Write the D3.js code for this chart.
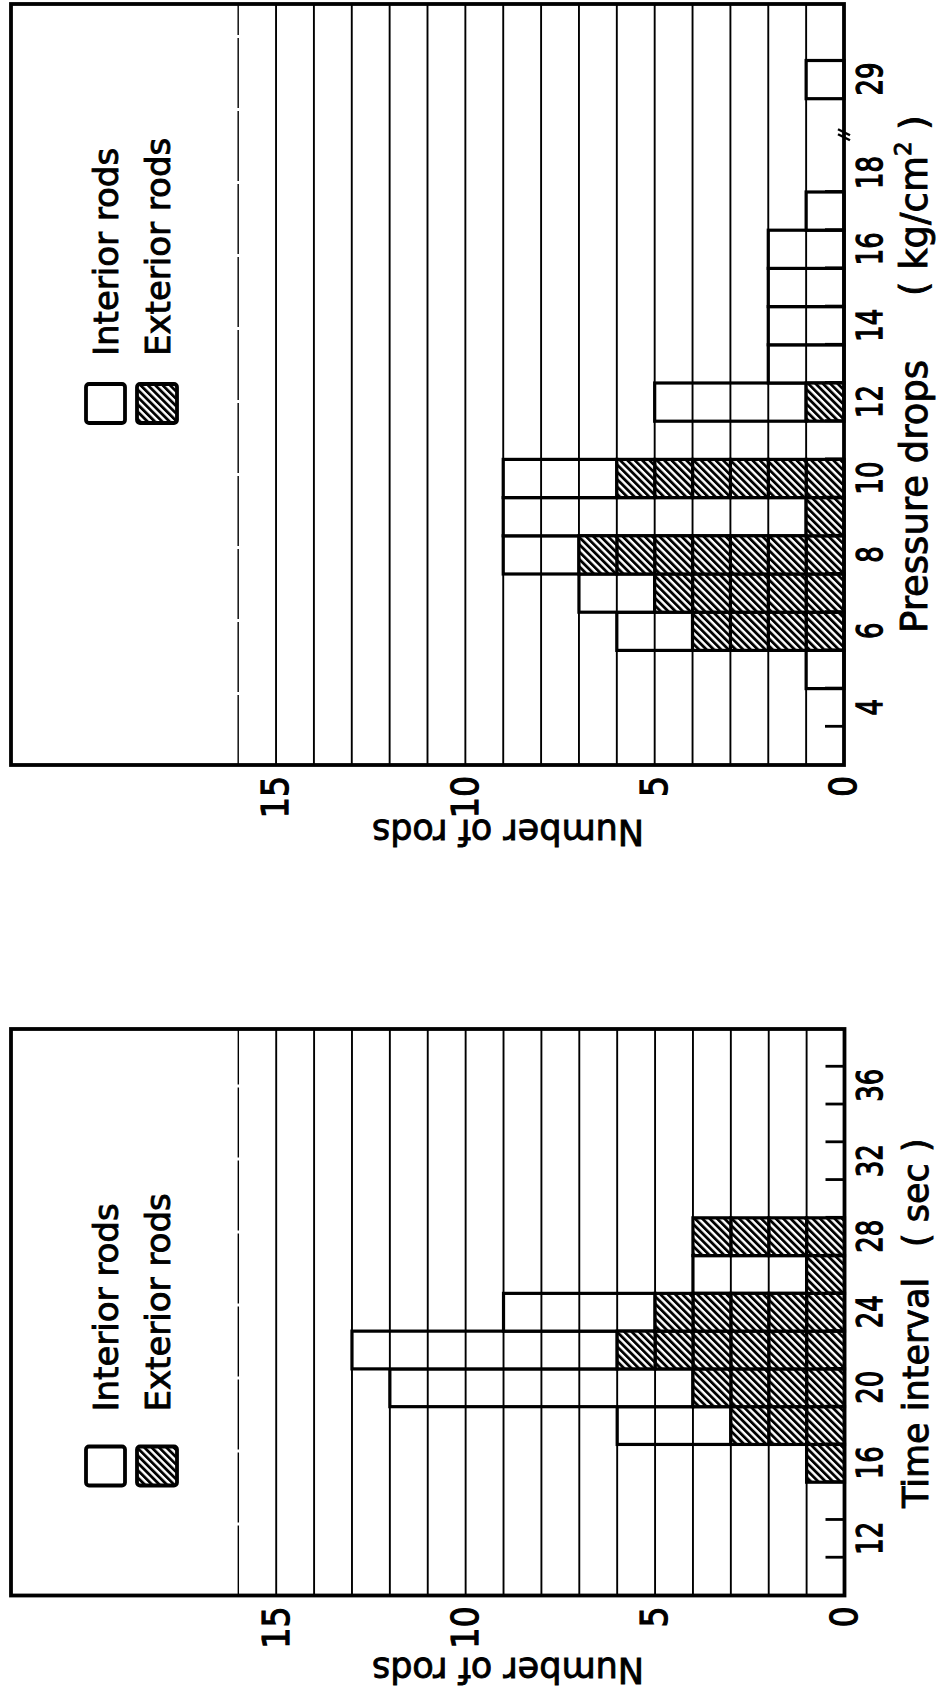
<!DOCTYPE html>
<html>
<head>
<meta charset="utf-8">
<script src="https://cdn.jsdelivr.net/npm/d3@7"></script>
<style>
  body { margin: 0; background: #fff; }
  text { font-family: "DejaVu Sans", sans-serif; fill: #000; stroke: #000; stroke-width: 0.9px; }
</style>
</head>
<body>
<div class="chart"></div>
<script>
// values (number of rods per bin)
var valueTicks = [0, 5, 10, 15];
var gridValues = d3.range(1, 17);

var pressureBins = [4, 5, 6, 7, 8, 9, 10, 11, 12, 13, 14, 15, 16, 17, 18, 29];
var pressureExterior = [0, 0, 4, 5, 7, 1, 6, 0, 1, 0, 0, 0, 0, 0, 0, 0];
var pressureInterior = [0, 1, 2, 2, 2, 8, 3, 0, 4, 2, 2, 2, 2, 1, 0, 1];
var pressureLabels = [4, 6, 8, 10, 12, 14, 16, 18, 29];

var timeBins = [10, 12, 14, 16, 18, 20, 22, 24, 26, 28, 30, 32, 34, 36, 38];
var timeExterior = [0, 0, 0, 1, 3, 4, 6, 5, 1, 4, 0, 0, 0, 0, 0];
var timeInterior = [0, 0, 0, 0, 3, 8, 7, 4, 3, 0, 0, 0, 0, 0, 0];
var timeLabels = [12, 16, 20, 24, 28, 32, 36];

var svg = d3.select(".chart")
  .append("svg")
  .attr("width", 938)
  .attr("height", 1692);

svg.append("rect")
  .attr("width", 938)
  .attr("height", 1692)
  .attr("fill", "#fff");

// hatch for exterior rods
var hatch = svg.append("defs").append("pattern")
  .attr("id", "hatch")
  .attr("patternUnits", "userSpaceOnUse")
  .attr("width", 5.2)
  .attr("height", 5.2)
  .attr("patternTransform", "rotate(45)");
hatch.append("rect").attr("width", 5.2).attr("height", 5.2).attr("fill", "#fff");
hatch.append("rect").attr("width", 2.8).attr("height", 5.2).attr("fill", "#000");

// the whole figure is printed turned a quarter turn, so each chart is
// drawn upright and then rotated
function drawChart(cfg) {
  var W = cfg.width;
  var H = cfg.height;

  var g = svg.append("g")
    .attr("transform", `translate(${cfg.left}, ${cfg.bottom}) rotate(-90)`);

  var x = d3.scaleLinear().domain(cfg.xDomain).range(cfg.xRange);
  var y = d3.scaleLinear().domain([0, 22]).range([H, 0]);

  var data = cfg.bins.map(function (b, i) {
    return { bin: b, ext: cfg.ext[i], int: cfg.int[i] };
  });
  var half = cfg.binWidth / 2;

  // interior rods sit on top of the exterior ones
  g.selectAll(".interior")
    .data(data.filter(d => d.int > 0))
    .enter()
    .append("rect")
    .attr("x", d => x(d.bin - half))
    .attr("width", d => x(d.bin + half) - x(d.bin - half))
    .attr("y", d => y(d.ext + d.int))
    .attr("height", d => y(d.ext) - y(d.ext + d.int))
    .attr("fill", "#fff")
    .attr("stroke", "#000")
    .attr("stroke-width", 3.2);

  g.selectAll(".grid")
    .data(gridValues)
    .enter()
    .append("line")
    .attr("x1", 0)
    .attr("x2", W)
    .attr("y1", d => y(d))
    .attr("y2", d => y(d))
    .attr("stroke", "#000")
    .attr("stroke-width", d => d === 16 ? 1.4 : 1.9)
    .attr("stroke-dasharray", d => d === 16 ? "70,3" : null);

  // exterior rods: one hatched cell per rod
  var cells = [];
  data.forEach(function (d) {
    for (var k = 0; k < d.ext; k++) cells.push({ bin: d.bin, k: k });
  });
  g.selectAll(".exterior")
    .data(cells)
    .enter()
    .append("rect")
    .attr("x", d => x(d.bin - half))
    .attr("width", d => x(d.bin + half) - x(d.bin - half))
    .attr("y", d => y(d.k + 1))
    .attr("height", d => y(d.k) - y(d.k + 1))
    .attr("fill", "url(#hatch)")
    .attr("stroke", "#000")
    .attr("stroke-width", 3.2);

  // ticks at the bin edges, pointing into the plot
  var tickAxis = g.append("g")
    .attr("transform", `translate(0, ${H})`)
    .call(d3.axisBottom(x).tickValues(cfg.ticks).tickSize(-19).tickFormat(""));
  tickAxis.select(".domain").remove();
  tickAxis.selectAll("line").attr("stroke-width", 2.8);

  var labelAxis = g.append("g")
    .attr("transform", `translate(0, ${H})`)
    .call(d3.axisBottom(x).tickValues(cfg.labels).tickSize(0).tickPadding(12));
  labelAxis.select(".domain").remove();
  labelAxis.selectAll("text")
    .attr("font-size", 36)
    .attr("font-family", "DejaVu Sans")
    .attr("transform", "scale(0.72,1)")
    .style("stroke-width", "1.4px");

  var valueAxis = g.append("g")
    .call(d3.axisLeft(y).tickValues(valueTicks).tickSize(0).tickPadding(12));
  valueAxis.select(".domain").remove();
  valueAxis.selectAll("text")
    .attr("font-size", 37)
    .attr("font-family", "DejaVu Sans")
    .attr("transform", "scale(0.9,1)")
    .style("stroke-width", "1.2px");

  // frame
  g.append("rect")
    .attr("width", W)
    .attr("height", H)
    .attr("fill", "none")
    .attr("stroke", "#000")
    .attr("stroke-width", 3.8);

  if (cfg.breakAt) {
    var bx = x(cfg.breakAt);
    [-2.5, 2.5].forEach(function (o) {
      g.append("line")
        .attr("x1", bx + o - 3).attr("y1", H + 6)
        .attr("x2", bx + o + 3).attr("y2", H - 6)
        .attr("stroke", "#000")
        .attr("stroke-width", 2.4);
    });
  }

  // axis titles
  cfg.title.forEach(function (t) {
    var txt = g.append("text")
      .attr("x", t.x)
      .attr("y", H + 83)
      .attr("font-size", cfg.titleSize)
      .style("white-space", "pre")
      .text(t.text);
    if (t.sup) {
      txt.append("tspan")
        .attr("font-size", cfg.titleSize * 0.62)
        .attr("dy", -cfg.titleSize * 0.42)
        .text(t.sup);
      txt.append("tspan")
        .attr("dy", cfg.titleSize * 0.42)
        .text(t.after);
    }
  });

  g.append("text")
    .attr("transform", `translate(${cfg.yTitleX}, 497) rotate(-90)`)
    .attr("text-anchor", "middle")
    .attr("font-size", 35)
    .text("Number of rods");

  // legend
  var lx = cfg.legendX;
  g.append("rect")
    .attr("x", lx).attr("y", 75)
    .attr("width", 39).attr("height", 39)
    .attr("rx", 3)
    .attr("fill", "#fff")
    .attr("stroke", "#000")
    .attr("stroke-width", 3.8);
  g.append("rect")
    .attr("x", lx).attr("y", 126)
    .attr("width", 39).attr("height", 40)
    .attr("rx", 3)
    .attr("fill", "url(#hatch)")
    .attr("stroke", "#000")
    .attr("stroke-width", 3.8);
  g.append("text")
    .attr("x", lx + 39 + cfg.legendGap)
    .attr("y", 107)
    .attr("font-size", 34)
    .text("Interior rods");
  g.append("text")
    .attr("x", lx + 39 + cfg.legendGap)
    .attr("y", 159)
    .attr("font-size", 34)
    .text("Exterior rods");
}

drawChart({
  left: 11, bottom: 765, width: 761, height: 833,
  xDomain: [2.5, 19, 28.5, 29.5, 31],
  xRange: [0, 630.3, 666.3, 704.5, 761],
  binWidth: 1,
  bins: pressureBins, ext: pressureExterior, int: pressureInterior,
  labels: pressureLabels,
  ticks: d3.range(3.5, 18, 1),
  breakAt: 19,
  titleSize: 37,
  title: [
    { x: 132, text: "Pressure drops" },
    { x: 469, text: "( kg/cm", sup: "2", after: " )" }
  ],
  yTitleX: -55,
  legendX: 342, legendGap: 28
});

drawChart({
  left: 11, bottom: 1595.5, width: 566.5, height: 833.5,
  xDomain: [9, 39],
  xRange: [0, 566.5],
  binWidth: 2,
  bins: timeBins, ext: timeExterior, int: timeInterior,
  labels: timeLabels,
  ticks: d3.range(11, 38, 2),
  breakAt: null,
  titleSize: 35,
  title: [
    { x: 87.5, text: "Time interval" },
    { x: 348.5, text: "( sec )" }
  ],
  yTitleX: -62,
  legendX: 110, legendGap: 35
});
</script>
</body>
</html>
